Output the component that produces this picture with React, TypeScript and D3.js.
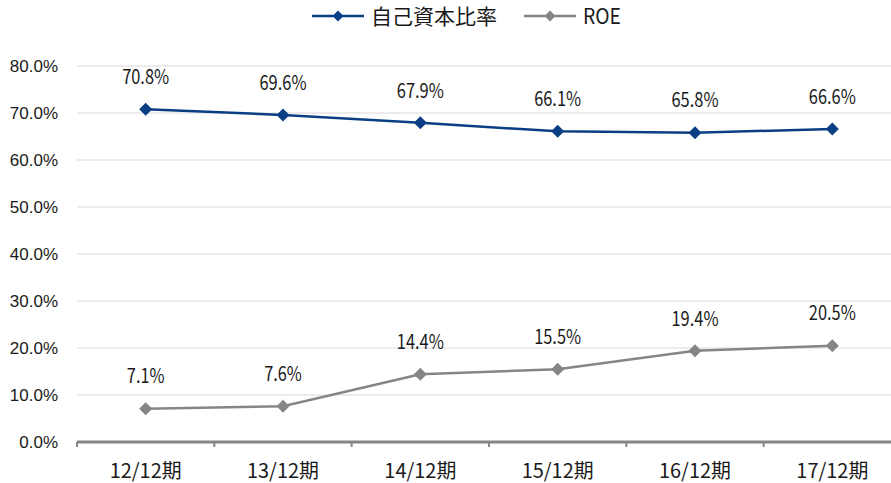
import React from 'react';
import * as d3 from 'd3';

const categories = ['12/12期', '13/12期', '14/12期', '15/12期', '16/12期', '17/12期'];
const equityRatio = [70.8, 69.6, 67.9, 66.1, 65.8, 66.6];
const roe = [7.1, 7.6, 14.4, 15.5, 19.4, 20.5];
const yTicks = [0, 10, 20, 30, 40, 50, 60, 70, 80];

const W = 891;
const H = 483;
const BLUE = '#0b3f84';
const GRAY = '#858585';
const CJK = 'Noto Sans CJK JP, sans-serif';

const series = [
  { name: '自己資本比率', values: equityRatio, color: BLUE, lx: 312, tw: 126 },
  { name: 'ROE', values: roe, color: GRAY, lx: 524, tw: 38 },
];

const diamond = (cx: number, cy: number, r: number) =>
  `M${cx},${cy - r} L${cx + r},${cy} L${cx},${cy + r} L${cx - r},${cy} Z`;

export default function App() {
  const x = d3.scaleBand<string>().domain(categories).range([77, 901]);
  const y = d3.scaleLinear().domain([0, 80]).range([442, 66]);
  const cx = (c: string) => (x(c) ?? 0) + x.bandwidth() / 2;
  const line = d3
    .line<number>()
    .x((_, i) => cx(categories[i]))
    .y((d) => y(d));

  return (
    <div style={{ position: 'fixed', left: 0, top: 0 }}>
      <svg width={W} height={H} style={{ display: 'block', background: '#fff' }}>
        {/* gridlines */}
        {yTicks.filter((t) => t > 0).map((t) => (
          <line key={t} x1={77} x2={W} y1={y(t)} y2={y(t)} stroke="#d9d9d9" strokeWidth={1} />
        ))}
        {/* y labels */}
        {yTicks.map((t) => (
          <text
            key={t}
            x={58}
            y={y(t)}
            dy="0.36em"
            textAnchor="end"
            fontFamily="Liberation Sans, Arial, sans-serif"
            fontSize={17}
            fill="#1a1a1a"
          >
            {t.toFixed(1)}%
          </text>
        ))}
        {/* x axis */}
        <line x1={77} x2={W} y1={y(0)} y2={y(0)} stroke={GRAY} strokeWidth={3} />
        {categories.map((c) => (
          <line key={c} x1={x(c)!} x2={x(c)!} y1={y(0)} y2={y(0) + 5} stroke={GRAY} strokeWidth={2} />
        ))}
        {categories.map((c) => (
          <text
            key={c}
            x={cx(c) - 36}
            y={470.5}
            dy="0.36em"
            textLength={72}
            lengthAdjust="spacingAndGlyphs"
            fontFamily={CJK}
            fontSize={20}
            fill="#1a1a1a"
          >
            {c}
          </text>
        ))}
        {/* series */}
        {series.map((s) => (
          <g key={s.name}>
            <path d={line(s.values) ?? ''} fill="none" stroke={s.color} strokeWidth={2.5} />
            {s.values.map((v, i) => (
              <path key={i} d={diamond(cx(categories[i]), y(v), 6.5)} fill={s.color} />
            ))}
            {s.values.map((v, i) => {
              const label = `${v.toFixed(1)}%`;
              const tw = label.length * 9.4;
              return (
                <text
                  key={'l' + i}
                  x={cx(categories[i]) - tw / 2}
                  y={y(v) - 32.5}
                  dy="0.36em"
                  textLength={tw}
                  lengthAdjust="spacingAndGlyphs"
                  fontFamily={CJK}
                  fontSize={20}
                  fill="#1a1a1a"
                >
                  {label}
                </text>
              );
            })}
          </g>
        ))}
        {/* legend */}
        {series.map((s) => (
          <g key={'lg' + s.name}>
            <line x1={s.lx} x2={s.lx + 52} y1={16} y2={16} stroke={s.color} strokeWidth={2.5} />
            <path d={diamond(s.lx + 26, 16, 5.5)} fill={s.color} />
            <text
              x={s.lx + 59}
              y={16}
              dy="0.36em"
              textLength={s.tw}
              lengthAdjust="spacingAndGlyphs"
              fontFamily={CJK}
              fontSize={21}
              fill="#1a1a1a"
            >
              {s.name}
            </text>
          </g>
        ))}
      </svg>
    </div>
  );
}
